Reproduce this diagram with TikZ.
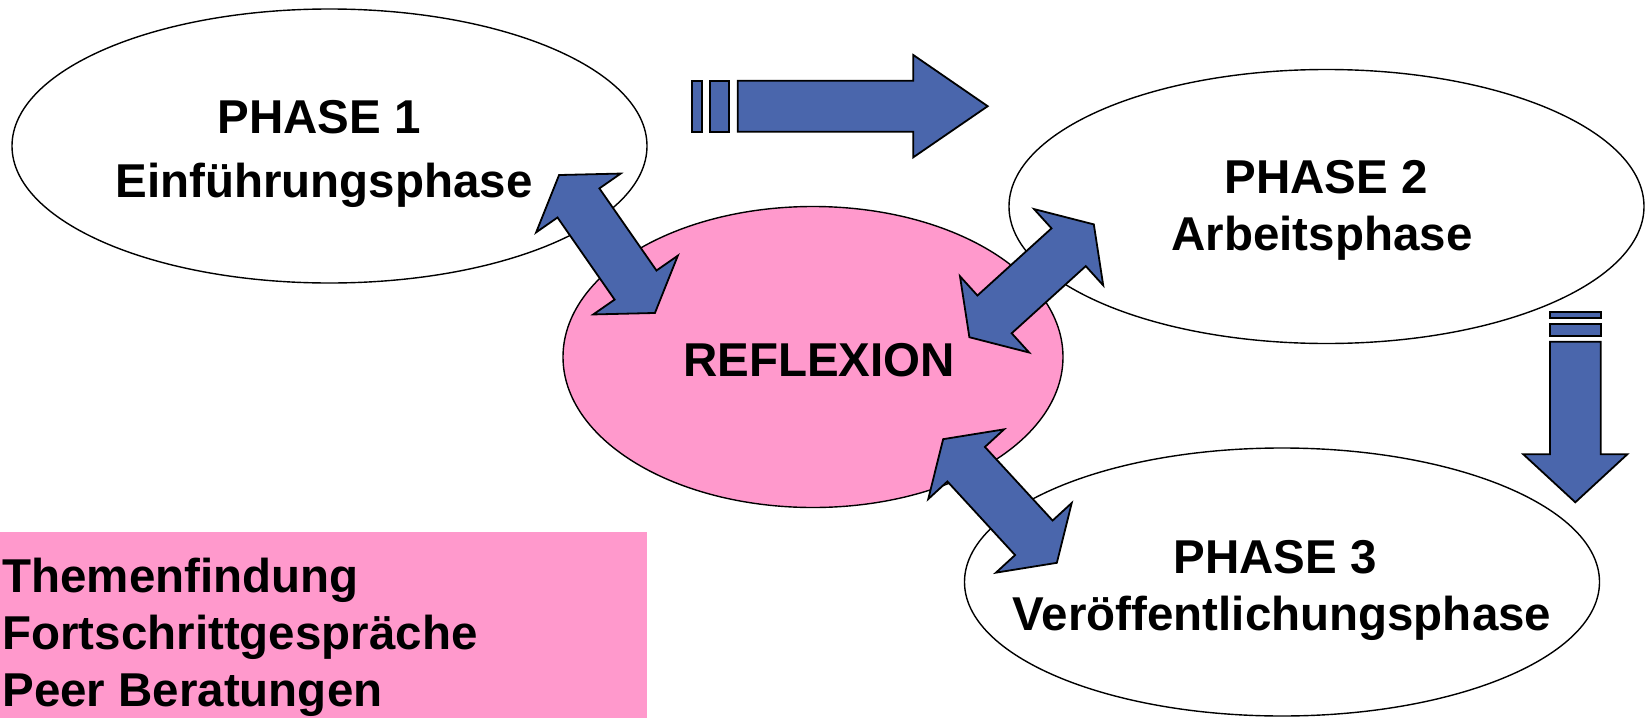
\documentclass[tikz,border=0pt]{standalone}
\usepackage{fontspec}
\setmainfont{Liberation Sans}
\usetikzlibrary{shapes.geometric}

\newlength{\du}
\setlength{\du}{0.5pt}

\definecolor{arrowblue}{rgb}{0.290196, 0.400000, 0.674510}
\definecolor{reflexpink}{rgb}{1.000000, 0.600000, 0.800000}

\tikzset{
  phase/.style={ellipse, draw=black, line width=0.7pt, fill=white, inner sep=0pt,
    minimum width=635\du, minimum height=274\du},
  phasetext/.style={font=\fontsize{23.75}{28.5}\selectfont\bfseries, inner sep=0pt, anchor=base},
  blockarrow/.style={draw=black, line width=0.9pt, fill=arrowblue, line join=miter},
}

% double block arrow: centre x, centre y, angle
\newcommand{\dblarrow}[3]{%
\begin{scope}[shift={(#1\du,#2\du)}, rotate=#3]
\draw[blockarrow] (-84\du,0\du)--(-50\du,-51.5\du)--(-50\du,-25.5\du)--(50\du,-25.5\du)--(50\du,-51.5\du)
  --(84\du,0\du)--(50\du,51.5\du)--(50\du,25.5\du)--(-50\du,25.5\du)--(-50\du,51.5\du)--cycle;
\end{scope}}

\begin{document}
\begin{tikzpicture}
\pgftransformxscale{1.000000}
\pgftransformyscale{-1.000000}
\useasboundingbox (0\du,0\du) rectangle (1646\du,718\du);

% phases
\node[phase] (ph1) at (329.5\du,146\du) {};
\node[phase] (ph2) at (1326.5\du,206.5\du) {};
\node[phase, minimum height=268\du] (ph3) at (1282\du,582\du) {};
\node[phase, fill=reflexpink, minimum width=500\du, minimum height=301\du] (refl) at (813\du,357\du) {};

\node[phasetext] (ph1title) at (319\du,133\du) {PHASE 1};
\node[phasetext] (ph1name) at (324\du,197\du) {Einführungsphase};
\node[phasetext] (ph2title) at (1326\du,193\du) {PHASE 2};
\node[phasetext] (ph2name) at (1322\du,250\du) {Arbeitsphase};
\node[phasetext] (ph3title) at (1275\du,573\du) {PHASE 3};
\node[phasetext] (ph3name) at (1282\du,630\du) {Veröffentlichungsphase};
\node[phasetext] (refltext) at (819\du,376\du) {REFLEXION};

% pink box
\fill[reflexpink] (0\du,531.5\du) rectangle (647\du,718\du);
\node[phasetext, anchor=north west, align=left] (tasks) at (2\du,557.4\du)
  {Themenfindung\\Fortschrittgespräche\\Peer Beratungen};

% striped arrow to the right
\draw[blockarrow] (691.7\du,80.7\du) rectangle (701.7\du,131.7\du);
\draw[blockarrow] (710\du,80.7\du) rectangle (729.3\du,131.7\du);
\draw[blockarrow] (737.7\du,80.7\du)--(913.3\du,80.7\du)--(913.3\du,55\du)--(987.7\du,106.2\du)
  --(913.3\du,157.3\du)--(913.3\du,131.7\du)--(737.7\du,131.7\du)--cycle;

% striped arrow down
\draw[blockarrow] (1550\du,312.3\du) rectangle (1600.7\du,318.3\du);
\draw[blockarrow] (1550\du,324\du) rectangle (1600.7\du,336\du);
\draw[blockarrow] (1550\du,341.7\du)--(1550\du,454.3\du)--(1523.3\du,454.3\du)--(1575.3\du,502.3\du)
  --(1627.3\du,454.3\du)--(1600.7\du,454.3\du)--(1600.7\du,341.7\du)--cycle;

% reflexion arrows
\dblarrow{607}{244}{55.2}
\dblarrow{1031.6}{280.8}{-42.2}
\dblarrow{1000}{501}{47.4}
\end{tikzpicture}
\end{document}
